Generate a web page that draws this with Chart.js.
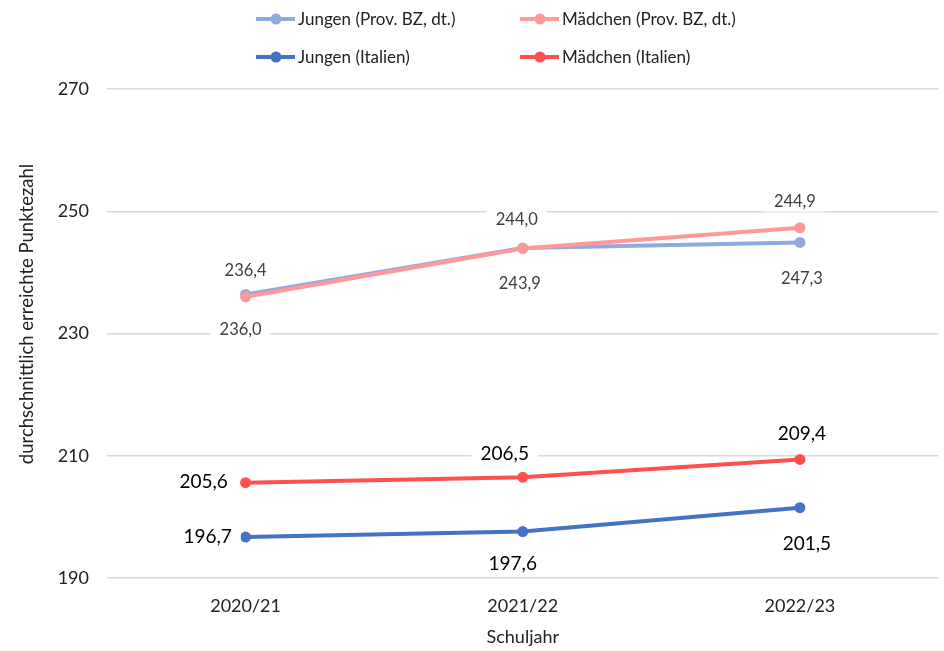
<!DOCTYPE html>
<html>
<head>
<meta charset="utf-8">
<script src="https://cdn.jsdelivr.net/npm/chart.js@4"></script>
<style>
  html, body { margin: 0; padding: 0; background: #fff; }
  #wrap { width: 944px; height: 651px; }
</style>
</head>
<body>
<div id="wrap"><canvas id="myChart" width="944" height="651"></canvas></div>
<script>
/****************************************************/
/*****************data*******************/
/****************************************************/
let schuljahre = ['2020/21', '2021/22', '2022/23'];
let jungenBZ = [236.4, 244.0, 244.9];
let maedchenBZ = [236.0, 243.9, 247.3];
let jungenIT = [196.7, 197.6, 201.5];
let maedchenIT = [205.6, 206.5, 209.4];
let yTicks = [190, 210, 230, 250, 270];

let FONT = 'Lato, "Open Sans", sans-serif';

// label offsets (dx, dy) from each point, in px
let labelPos = {
  jBZ: [[0, -24], [-6, -28], [-5, -41]],
  mBZ: [[-5, 33], [-3, 35], [2, 51]],
  jIT: [[-38, 0], [-10, 32], [7, 36]],
  mIT: [[-42, -1], [-18, -23], [2, -26]]
};

function fmt(v) {
  return v.toFixed(1).replace('.', ',');
}

/****************************************************/
/*****************plugin: labels, legend, titles*******************/
/****************************************************/
let extrasPlugin = {
  id: 'extras',
  afterDatasetsDraw(chart) {
    let ctx = chart.ctx;
    chart.data.datasets.forEach((ds, i) => {
      let meta = chart.getDatasetMeta(i);
      ctx.save();
      ctx.font = ds.lblSize + 'px ' + FONT;
      ctx.textAlign = 'center';
      ctx.textBaseline = 'middle';
      meta.data.forEach((pt, j) => {
        let off = labelPos[ds.key][j];
        let txt = fmt(ds.data[j]);
        let x = pt.x + off[0];
        let y = pt.y + off[1];
        let w = ctx.measureText(txt).width;
        ctx.fillStyle = '#fff';
        ctx.fillRect(x - w / 2 - 9, y - ds.lblSize / 2 - 2, w + 18, ds.lblSize + 4);
        ctx.fillStyle = ds.lblColor;
        ctx.fillText(txt, x, y);
      });
      ctx.restore();
    });
  },
  afterDraw(chart) {
    let ctx = chart.ctx;
    ctx.save();
    // legend
    let items = [
      [0, 256, 19], [1, 520, 19],
      [2, 256, 57], [3, 520, 57]
    ];
    ctx.font = '17px ' + FONT;
    ctx.textBaseline = 'middle';
    ctx.textAlign = 'left';
    items.forEach(it => {
      let ds = chart.data.datasets[it[0]];
      let x = it[1], y = it[2];
      ctx.strokeStyle = ds.borderColor;
      ctx.lineWidth = 4;
      ctx.beginPath();
      ctx.moveTo(x, y);
      ctx.lineTo(x + 39, y);
      ctx.stroke();
      ctx.fillStyle = ds.borderColor;
      ctx.beginPath();
      ctx.arc(x + 20, y, 5.5, 0, Math.PI * 2);
      ctx.fill();
      ctx.fillStyle = '#222';
      ctx.fillText(ds.label, x + 42, y + 1);
    });
    // y title
    ctx.translate(27, 314);
    ctx.rotate(-Math.PI / 2);
    ctx.textAlign = 'center';
    ctx.font = '18.5px ' + FONT;
    ctx.fillStyle = '#222';
    ctx.fillText('durchschnittlich erreichte Punktezahl', 0, 0);
    ctx.restore();
    // x title
    ctx.save();
    ctx.font = '18px ' + FONT;
    ctx.fillStyle = '#222';
    ctx.textAlign = 'center';
    ctx.textBaseline = 'middle';
    ctx.fillText('Schuljahr', (chart.chartArea.left + chart.chartArea.right) / 2, 637);
    ctx.restore();
  }
};

/****************************************************/
/*****************chart*******************/
/****************************************************/
let ctx = document.getElementById('myChart').getContext('2d');
let myChart = new Chart(ctx, {
  type: 'line',
  data: {
    labels: schuljahre,
    datasets: [
      {
        key: 'jBZ', label: 'Jungen (Prov. BZ, dt.)', data: jungenBZ,
        borderColor: '#8FAADC', backgroundColor: '#8FAADC',
        lblColor: '#404040', lblSize: 16.5, order: 4
      },
      {
        key: 'mBZ', label: 'Mädchen (Prov. BZ, dt.)', data: maedchenBZ,
        borderColor: '#FF9999', backgroundColor: '#FF9999',
        lblColor: '#404040', lblSize: 16.5, order: 3
      },
      {
        key: 'jIT', label: 'Jungen (Italien)', data: jungenIT,
        borderColor: '#4472C4', backgroundColor: '#4472C4',
        lblColor: '#000', lblSize: 19, order: 2
      },
      {
        key: 'mIT', label: 'Mädchen (Italien)', data: maedchenIT,
        borderColor: '#FF5050', backgroundColor: '#FF5050',
        lblColor: '#000', lblSize: 19, order: 1
      }
    ]
  },
  options: {
    responsive: false,
    animation: false,
    layout: { padding: { top: 89, left: 0, right: 1, bottom: 0 } },
    elements: {
      line: { borderWidth: 4, tension: 0 },
      point: { radius: 5.5, borderWidth: 0, hoverRadius: 5.5 }
    },
    plugins: {
      legend: { display: false },
      tooltip: { enabled: false }
    },
    scales: {
      x: {
        offset: true,
        grid: { display: false },
        border: { display: false },
        ticks: { font: { family: FONT, size: 18 }, color: '#222', padding: 9 },
        afterFit(scale) { scale.height = 73; }
      },
      y: {
        min: 190, max: 270,
        afterBuildTicks(scale) { scale.ticks = yTicks.map(v => ({ value: v })); },
        grid: { color: '#D9D9D9', lineWidth: 1.5, drawTicks: false },
        border: { display: false },
        ticks: { font: { family: FONT, size: 18 }, color: '#222', padding: 18 },
        afterFit(scale) { scale.width = 107; }
      }
    }
  },
  plugins: [extrasPlugin]
});
</script>
</body>
</html>
